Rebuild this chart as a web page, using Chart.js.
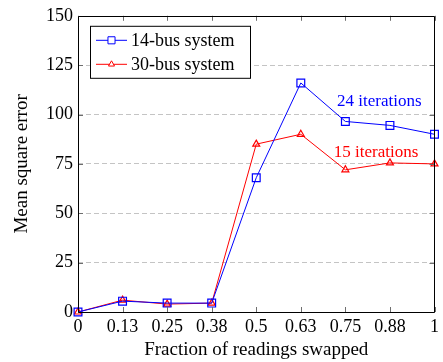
<!DOCTYPE html>
<html>
<head>
<meta charset="utf-8">
<script src="https://cdn.jsdelivr.net/npm/chart.js@4/dist/chart.umd.min.js"></script>
<style>
  html, body { margin: 0; padding: 0; background: #fff; }
  #wrap { width: 443px; height: 362px; }
</style>
</head>
<body>
<div id="wrap"><canvas id="c" width="443" height="362"></canvas></div>
<script>
// ---- data ----
const categories = ['0', '0.13', '0.25', '0.38', '0.5', '0.63', '0.75', '0.88', '1'];
const bus14 = [0, 5.5, 4.5, 4.5, 68, 116, 96.5, 94.5, 90];
const bus30 = [0, 6, 4, 4.5, 85, 90, 72, 75.5, 75];
const seriesNames = ['14-bus system', '30-bus system'];
const yTicks = [0, 25, 50, 75, 100, 125, 150];
const annotationTexts = ['24 iterations', '15 iterations'];

const FONT = "'Liberation Serif', 'Times New Roman', serif";
const BLUE = '#0000ff';
const RED = '#ff0000';

const annotations = [
  { text: annotationTexts[0], color: BLUE, xi: 6.76, y: 106.8 },
  { text: annotationTexts[1], color: RED, xi: 6.69, y: 80.7 }
];

const framePlugin = {
  id: 'frame',
  afterDatasetsDraw(chart) {
    const { ctx, chartArea: a, scales } = chart;
    ctx.save();
    // inward ticks
    ctx.strokeStyle = '#6e6e6e';
    ctx.lineWidth = 1;
    const tl = 5;
    ctx.beginPath();
    scales.x.ticks.forEach((t, i) => {
      const px = Math.round(scales.x.getPixelForTick(i)) + 0.5;
      ctx.moveTo(px, a.bottom); ctx.lineTo(px, a.bottom - tl);
      ctx.moveTo(px, a.top); ctx.lineTo(px, a.top + tl);
    });
    scales.y.ticks.forEach((t, i) => {
      const py = Math.round(scales.y.getPixelForTick(i)) + 0.5;
      ctx.moveTo(a.left, py); ctx.lineTo(a.left + tl, py);
      ctx.moveTo(a.right, py); ctx.lineTo(a.right - tl, py);
    });
    ctx.stroke();
    // box
    ctx.strokeStyle = '#000';
    ctx.beginPath();
    ctx.rect(Math.round(a.left) + 0.5, Math.round(a.top) + 0.5,
             Math.round(a.right - a.left) - 1, Math.round(a.bottom - a.top));
    ctx.stroke();

    // annotations
    ctx.font = '17px ' + FONT;
    ctx.textAlign = 'center';
    ctx.textBaseline = 'middle';
    annotations.forEach(an => {
      ctx.fillStyle = an.color;
      ctx.fillText(an.text, scales.x.getPixelForValue(an.xi), scales.y.getPixelForValue(an.y));
    });

    // legend
    const lx = a.left + 12, ly = a.top + 10, lw = 160, lh = 52;
    ctx.fillStyle = '#fff';
    ctx.fillRect(lx, ly, lw, lh);
    ctx.strokeStyle = '#000';
    ctx.strokeRect(lx + 0.5, ly + 0.5, lw, lh);
    chart.data.datasets.forEach((ds, i) => {
      const cy = ly + 14 + i * 24;
      ctx.strokeStyle = ds.borderColor;
      ctx.lineWidth = 1;
      ctx.beginPath();
      ctx.moveTo(lx + 6, cy + 0.5); ctx.lineTo(lx + 37, cy + 0.5);
      ctx.stroke();
      ctx.fillStyle = '#fff';
      Chart.helpers.drawPoint(ctx, {
        pointStyle: ds.pointStyle, radius: ds.legendRadius, rotation: 0, borderWidth: 1
      }, lx + 21.5, cy + 0.5);
      ctx.fillStyle = '#000';
      ctx.textAlign = 'left';
      ctx.font = '18px ' + FONT;
      ctx.fillText(ds.label, lx + 41, cy + 1);
    });
    ctx.restore();
  }
};

new Chart(document.getElementById('c'), {
  type: 'line',
  data: {
    labels: categories,
    datasets: [
      {
        label: seriesNames[0], data: bus14,
        borderColor: BLUE, backgroundColor: BLUE, borderWidth: 1,
        pointStyle: 'rect', pointRadius: 5.5, legendRadius: 5,
        pointBorderColor: BLUE, pointBackgroundColor: 'rgba(0,0,0,0)', pointBorderWidth: 1.2,
        tension: 0
      },
      {
        label: seriesNames[1], data: bus30,
        borderColor: RED, backgroundColor: RED, borderWidth: 1,
        pointStyle: 'triangle', pointRadius: 4, legendRadius: 3.5,
        pointBorderColor: RED, pointBackgroundColor: 'rgba(0,0,0,0)', pointBorderWidth: 1.2,
        tension: 0
      }
    ]
  },
  options: {
    responsive: false,
    animation: false,
    clip: false,
    layout: { padding: { top: 11, right: 2, left: 0, bottom: 0 } },
    plugins: { legend: { display: false }, tooltip: { enabled: false } },
    scales: {
      x: {
        type: 'category',
        offset: false,
        grid: { display: false, drawTicks: false },
        border: { display: false },
        ticks: { color: '#000', font: { family: FONT, size: 18 }, padding: 4, maxRotation: 0, autoSkip: false },
        title: { display: true, text: 'Fraction of readings swapped', color: '#000',
                 font: { family: FONT, size: 19 }, padding: { top: 0, bottom: 1 } },
        afterFit(s) { s.height = 50; }
      },
      y: {
        min: 0, max: 150,
        afterBuildTicks(s) { s.ticks = yTicks.map(v => ({ value: v })); },
        grid: {
          drawTicks: false,
          color: ctx => (ctx.tick && (ctx.tick.value === 0 || ctx.tick.value === 150)) ? 'rgba(0,0,0,0)' : '#c4c4c4',
          lineWidth: 1
        },
        border: { display: false, dash: [5, 3] },
        ticks: { color: '#000', font: { family: FONT, size: 18 }, padding: 5 },
        title: { display: true, text: 'Mean square error', color: '#000',
                 font: { family: FONT, size: 19 }, padding: { top: 11, bottom: 0 } },
        afterFit(s) { s.width = 78; }
      }
    }
  },
  plugins: [framePlugin]
});
</script>
</body>
</html>
